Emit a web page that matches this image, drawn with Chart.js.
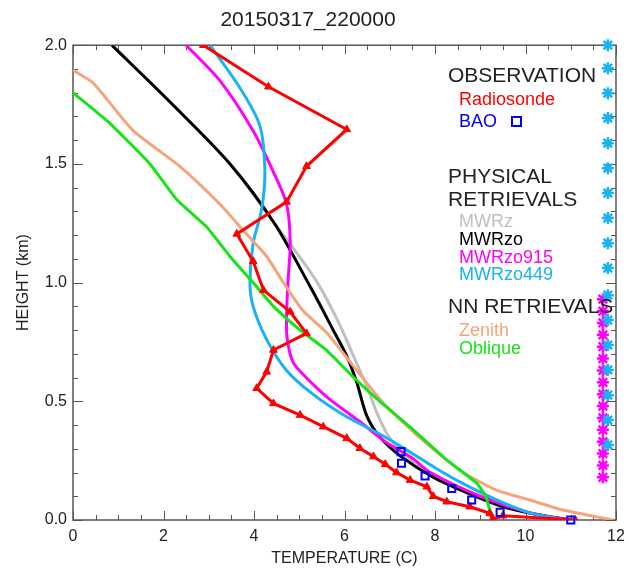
<!DOCTYPE html>
<html>
<head>
<meta charset="utf-8">
<script src="https://cdn.jsdelivr.net/npm/chart.js@4.4.0/dist/chart.umd.min.js"></script>
<style>
  html, body { margin: 0; padding: 0; background: #fff; }
  #wrap { width: 629px; height: 571px; }
</style>
</head>
<body>
<div id="wrap"><canvas id="profile"></canvas></div>
<script>
// temperature (C) / height (km) profiles
const radiosondeT = [2.88, 4.32, 6.05, 5.16, 4.72, 3.62, 3.98, 4.21, 4.8, 5.16, 4.43, 4.28, 4.06, 4.43, 5.02, 5.53, 6.05, 6.34, 6.64, 6.9, 7.15, 7.45, 7.82, 7.96, 8.26, 8.77, 9.21, 9.28, 9.5, 11.1];
const radiosondeH = [2.0, 1.825, 1.645, 1.49, 1.34, 1.205, 1.09, 0.968, 0.877, 0.786, 0.716, 0.624, 0.555, 0.491, 0.442, 0.393, 0.344, 0.302, 0.267, 0.235, 0.2, 0.168, 0.14, 0.1, 0.077, 0.056, 0.028, 0.004, 0.018, 0.0];

const baoT = [7.25, 7.26, 7.78, 8.37, 8.81, 9.44, 11.0];
const baoH = [0.288, 0.239, 0.185, 0.133, 0.084, 0.032, 0.0];

const mwrzT = [0.86, 2.2, 3.47, 4.45, 4.85, 5.4, 5.85, 6.2, 6.5, 6.72, 6.95, 7.3, 7.96, 8.7, 9.44, 10.2, 11.0];
const mwrzH = [2.0, 1.75, 1.5, 1.25, 1.15, 1.0, 0.84, 0.69, 0.56, 0.45, 0.36, 0.28, 0.18, 0.115, 0.06, 0.025, 0.0];

const mwrzoT = [0.86, 2.2, 3.47, 4.45, 5.25, 5.75, 6.05, 6.27, 6.49, 6.78, 7.23, 7.96, 8.7, 9.44, 10.2, 11.0];
const mwrzoH = [2.0, 1.75, 1.5, 1.25, 0.98, 0.8, 0.69, 0.58, 0.44, 0.35, 0.27, 0.18, 0.115, 0.06, 0.025, 0.0];

const mwrzo915T = [2.5, 3.25, 3.98, 4.42, 4.72, 4.8, 4.75, 4.72, 4.73, 4.85, 5.05, 5.6, 6.3, 6.9, 7.5, 7.9, 9.0, 10.1, 11.0];
const mwrzo915H = [2.0, 1.85, 1.64, 1.47, 1.33, 1.17, 1.0, 0.87, 0.77, 0.67, 0.62, 0.52, 0.42, 0.33, 0.26, 0.2, 0.1, 0.03, 0.0];

const mwrzo449T = [3.03, 3.69, 4.13, 4.24, 4.17, 3.98, 3.91, 3.98, 4.28, 4.72, 5.3, 6.0, 6.8, 7.5, 8.0, 8.6, 9.36, 10.1, 10.9];
const mwrzo449H = [2.0, 1.82, 1.66, 1.47, 1.31, 1.165, 1.0, 0.9, 0.76, 0.63, 0.53, 0.44, 0.36, 0.28, 0.22, 0.155, 0.085, 0.03, 0.0];

const zenithT = [0, 0.45, 1.33, 2.36, 3.25, 3.76, 4.28, 4.65, 5.09, 5.6, 6.15, 6.78, 7.3, 7.89, 8.62, 9.36, 10.1, 10.83, 11.94];
const zenithH = [1.895, 1.84, 1.64, 1.49, 1.33, 1.22, 1.11, 1.0, 0.88, 0.79, 0.66, 0.51, 0.41, 0.31, 0.2, 0.126, 0.084, 0.042, 0.0];

const obliqueT = [0, 0.82, 1.7, 2.29, 2.95, 3.47, 3.98, 4.43, 5.02, 5.6, 6.19, 6.78, 7.52, 8.26, 8.92, 9.12, 9.21, 9.32];
const obliqueH = [1.8, 1.67, 1.5, 1.35, 1.235, 1.11, 1.0, 0.9, 0.8, 0.716, 0.603, 0.5, 0.38, 0.253, 0.155, 0.1, 0.042, 0.0];

// flag markers along the right edge
const flag449T = 11.82;
const flag449H = [2.0, 1.903, 1.798, 1.693, 1.587, 1.482, 1.377, 1.272, 1.166, 1.061, 0.947, 0.842, 0.737, 0.632, 0.526, 0.421, 0.316];
const flag915T = 11.71;
const flag915H = [0.93, 0.88, 0.83, 0.78, 0.73, 0.68, 0.63, 0.58, 0.53, 0.48, 0.43, 0.38, 0.33, 0.28, 0.23, 0.18];

const xTicks = [0, 2, 4, 6, 8, 10, 12];
const yTicks = [0.0, 0.5, 1.0, 1.5, 2.0];

const FONT = "'Liberation Sans', Arial, sans-serif";

function pts(xs, ys) {
  return xs.map((x, i) => ({ x: x, y: ys[i] }));
}

function curve(label, xs, ys, color, tension) {
  return {
    label: label,
    data: pts(xs, ys),
    showLine: true,
    borderColor: color,
    borderWidth: 3,
    pointRadius: 0,
    tension: tension
  };
}

// inward ticks on all four sides + frame
const framePlugin = {
  id: 'frame',
  beforeDatasetsDraw(chart) {
    const { ctx, chartArea: a, scales } = chart;
    const xs = scales.x, ys = scales.y;
    ctx.save();
    ctx.strokeStyle = '#555';
    ctx.lineWidth = 1.5;
    ctx.strokeRect(a.left, a.top, a.right - a.left, a.bottom - a.top);
    ctx.beginPath();
    for (let i = 0; i <= 24; i++) {
      const v = i * 0.5;
      const px = Math.round(xs.getPixelForValue(v)) + 0.5;
      const len = (i % 4 === 0) ? 9 : 5;
      ctx.moveTo(px, a.bottom); ctx.lineTo(px, a.bottom - len);
      ctx.moveTo(px, a.top); ctx.lineTo(px, a.top + len);
    }
    for (let i = 0; i <= 20; i++) {
      const v = i * 0.1;
      const py = Math.round(ys.getPixelForValue(v)) + 0.5;
      const len = (i % 5 === 0) ? 10 : 5;
      ctx.moveTo(a.left, py); ctx.lineTo(a.left + len, py);
      ctx.moveTo(a.right, py); ctx.lineTo(a.right - len, py);
    }
    ctx.lineWidth = 1;
    ctx.stroke();
    ctx.restore();
  },
  afterDatasetsDraw(chart) {
    const ctx = chart.ctx;
    ctx.save();
    ctx.textBaseline = 'middle';
    ctx.textAlign = 'left';
    const head = (t, x, y) => { ctx.font = '21px ' + FONT; ctx.fillStyle = '#222'; ctx.fillText(t, x, y); };
    const item = (t, x, y, c) => { ctx.font = '18px ' + FONT; ctx.fillStyle = c; ctx.fillText(t, x, y); };
    head('OBSERVATION', 448, 76);
    item('Radiosonde', 459, 100, '#ff0000');
    item('BAO', 459, 122, '#0000ff');
    ctx.strokeStyle = '#0000ff';
    ctx.lineWidth = 2;
    ctx.strokeRect(512, 117, 9, 9);
    head('PHYSICAL', 448, 177);
    head('RETRIEVALS', 448, 200);
    item('MWRz', 459, 222, '#c0c0c0');
    item('MWRzo', 459, 240, '#000000');
    item('MWRzo915', 459, 258, '#ff00ff');
    item('MWRzo449', 459, 275, '#19b2f5');
    head('NN RETRIEVALS', 448, 307);
    item('Zenith', 459, 331, '#f5a47c');
    item('Oblique', 459, 349, '#16e416');
    ctx.restore();
  }
};

new Chart(document.getElementById('profile'), {
  type: 'scatter',
  data: {
    datasets: [
      {
        label: 'BAO',
        data: pts(baoT, baoH),
        showLine: false,
        pointStyle: 'rect',
        pointRadius: 5,
        borderColor: '#0000ff',
        backgroundColor: 'rgba(0,0,0,0)',
        borderWidth: 2,
        clip: false
      },
      {
        label: 'Radiosonde',
        data: pts(radiosondeT, radiosondeH),
        showLine: true,
        borderColor: '#ff0000',
        borderWidth: 3,
        pointStyle: 'triangle',
        pointRadius: 4.5,
        backgroundColor: '#ff0000',
        pointBorderWidth: 1,
        tension: 0
      },
      {
        label: 'flag449',
        data: flag449H.map(h => ({ x: flag449T, y: h })),
        showLine: false,
        pointStyle: 'star',
        pointRadius: 6,
        borderColor: '#19b2f5',
        borderWidth: 2.5,
        clip: false
      },
      {
        label: 'flag915',
        data: flag915H.map(h => ({ x: flag915T, y: h })),
        showLine: false,
        pointStyle: 'star',
        pointRadius: 6,
        borderColor: '#ff00ff',
        borderWidth: 2.5,
        clip: false
      },
      curve('Oblique', obliqueT, obliqueH, '#16e416', 0.15),
      curve('Zenith', zenithT, zenithH, '#f5a47c', 0.2),
      curve('MWRzo449', mwrzo449T, mwrzo449H, '#19b2f5', 0.3),
      curve('MWRzo915', mwrzo915T, mwrzo915H, '#ff00ff', 0.3),
      curve('MWRzo', mwrzoT, mwrzoH, '#000000', 0.3),
      curve('MWRz', mwrzT, mwrzH, '#c0c0c0', 0.3)
    ]
  },
  options: {
    responsive: true,
    maintainAspectRatio: false,
    animation: false,
    devicePixelRatio: 1,
    layout: { padding: { left: 0, right: 13, top: 0, bottom: 0 } },
    plugins: {
      legend: { display: false },
      tooltip: { enabled: false },
      title: {
        display: true,
        text: '20150317_220000',
        color: '#222',
        font: { family: FONT, size: 21, weight: 'normal' },
        padding: { top: 8, bottom: 12 }
      }
    },
    scales: {
      x: {
        type: 'linear',
        min: 0,
        max: 12,
        afterBuildTicks: s => { s.ticks = xTicks.map(v => ({ value: v })); },
        ticks: { color: '#222', font: { family: FONT, size: 16 }, padding: 7, callback: v => String(v) },
        grid: { display: false, drawTicks: false },
        border: { display: false },
        title: { display: true, text: 'TEMPERATURE (C)', color: '#222', font: { family: FONT, size: 16 }, padding: { top: 0, bottom: 3 } },
        afterFit: s => { s.height = 51; s.paddingLeft = 0; s.paddingRight = 0; }
      },
      y: {
        type: 'linear',
        min: 0,
        max: 2,
        afterBuildTicks: s => { s.ticks = yTicks.map(v => ({ value: v })); },
        ticks: { color: '#222', font: { family: FONT, size: 16 }, padding: 6, callback: v => Number(v).toFixed(1) },
        grid: { display: false, drawTicks: false },
        border: { display: false },
        title: { display: true, text: 'HEIGHT (km)', color: '#222', font: { family: FONT, size: 16 }, padding: { top: 14, bottom: 0 } },
        afterFit: s => { s.width = 73; s.paddingTop = 0; s.paddingBottom = 0; }
      }
    }
  },
  plugins: [framePlugin]
});
</script>
</body>
</html>
